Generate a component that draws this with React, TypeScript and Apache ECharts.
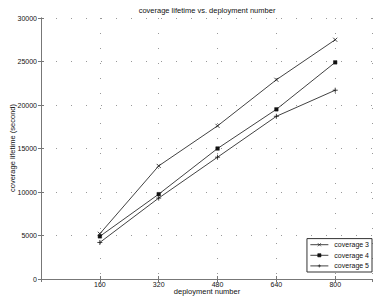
import React, { useEffect, useRef } from "react";
import * as echarts from "echarts";

const deployment = [160, 320, 480, 640, 800];
const coverage3 = [5200, 13000, 17600, 22900, 27500];
const coverage4 = [4900, 9750, 15000, 19500, 24900];
const coverage5 = [4200, 9300, 14000, 18700, 21700];
const seriesNames = ["coverage 3", "coverage 4", "coverage 5"];
const titleText = "coverage lifetime vs. deployment number";
const xName = "deployment number";
const yName = "coverage lifetime (second)";

const FONT = "Liberation Sans, Arial, sans-serif";
const INK = "#111";
const AXIS = "#777";

const xMark = "path://M0,0L10,10M10,0L0,10";
const plusMark = "path://M5,0L5,10M0,5L10,5";

export default function App() {
  const ref = useRef<HTMLDivElement>(null);
  useEffect(() => {
    if (!ref.current) return;
    const chart = echarts.init(ref.current, null, { renderer: "svg" });
    const pairs = (ys: number[]) => deployment.map((x, i) => [x, ys[i]]);
    const lineStyle = { color: INK, width: 0.8 };
    const xCommon = {
      type: "value" as const,
      min: 0,
      max: 900,
      interval: 160,
      axisLine: { show: true, lineStyle: { color: AXIS, width: 1 } },
      axisTick: { show: true, inside: true, length: 3, lineStyle: { color: AXIS } },
    };
    const yCommon = {
      type: "value" as const,
      min: 0,
      max: 30000,
      interval: 5000,
      axisLine: { show: true, lineStyle: { color: AXIS, width: 1 } },
      axisTick: { show: true, inside: true, length: 3, lineStyle: { color: AXIS } },
    };
    const textStyle = (text: string) => ({
      text,
      font: `7.5px ${FONT}`,
      fill: INK,
      textAlign: "center",
      textVerticalAlign: "middle",
    });
    chart.setOption({
      animation: false,
      backgroundColor: "#fff",
      textStyle: { fontFamily: FONT, color: INK },
      graphic: [
        { type: "text", x: 207, y: 10, style: textStyle(titleText) },
        { type: "text", x: 207, y: 291, style: textStyle(xName) },
        { type: "text", x: 12, y: 148, rotation: Math.PI / 2, style: textStyle(yName) },
      ],
      grid: { left: 41, right: 1, top: 18, bottom: 19, outerBoundsMode: "none", containLabel: false },
      legend: {
        data: seriesNames,
        orient: "vertical",
        right: 1,
        bottom: 26,
        backgroundColor: "#fff",
        borderColor: "#333",
        borderWidth: 1,
        borderRadius: 0,
        padding: [2, 3, 2, 3],
        itemGap: 3,
        itemWidth: 18,
        itemHeight: 4,
        lineStyle: { width: 0.8 },
        itemStyle: { borderWidth: 0.6 },
        textStyle: { fontSize: 7, color: INK, fontFamily: FONT, padding: [0, 0, 0, 1] },
      },
      xAxis: [
        {
          ...xCommon,
          position: "bottom",
          axisLabel: {
            fontSize: 7,
            color: INK,
            margin: 1.5,
            showMaxLabel: false,
            formatter: (v: number) => (deployment.includes(v) ? String(v) : ""),
          },
          splitLine: { show: true, lineStyle: { color: "#999", type: [1, 14], width: 1 } },
        },
        {
          ...xCommon,
          position: "top",
          axisLabel: { show: false },
          splitLine: { show: false },
        },
      ],
      yAxis: [
        {
          ...yCommon,
          position: "left",
          axisLabel: { fontSize: 7, color: INK, margin: 4, formatter: (v: number) => String(v) },
          splitLine: { show: true, lineStyle: { color: "#999", type: [1, 14], width: 1 } },
        },
        {
          ...yCommon,
          position: "right",
          axisLabel: { show: false },
          splitLine: { show: false },
        },
      ],
      series: [
        {
          name: seriesNames[0],
          type: "line",
          data: pairs(coverage3),
          symbol: xMark,
          symbolSize: 4,
          itemStyle: { color: "none", borderColor: INK, borderWidth: 0.8 },
          lineStyle,
        },
        {
          name: seriesNames[1],
          type: "line",
          data: pairs(coverage4),
          symbol: "rect",
          symbolSize: 3.5,
          itemStyle: { color: INK, borderColor: INK, borderWidth: 0.5 },
          lineStyle,
        },
        {
          name: seriesNames[2],
          type: "line",
          data: pairs(coverage5),
          symbol: plusMark,
          symbolSize: 5,
          itemStyle: { color: "none", borderColor: INK, borderWidth: 0.8 },
          lineStyle,
        },
      ],
    });
    return () => chart.dispose();
  }, []);
  return (
    <div
      ref={ref}
      style={{ position: "fixed", left: 0, top: 0, width: 373, height: 298 }}
    />
  );
}
